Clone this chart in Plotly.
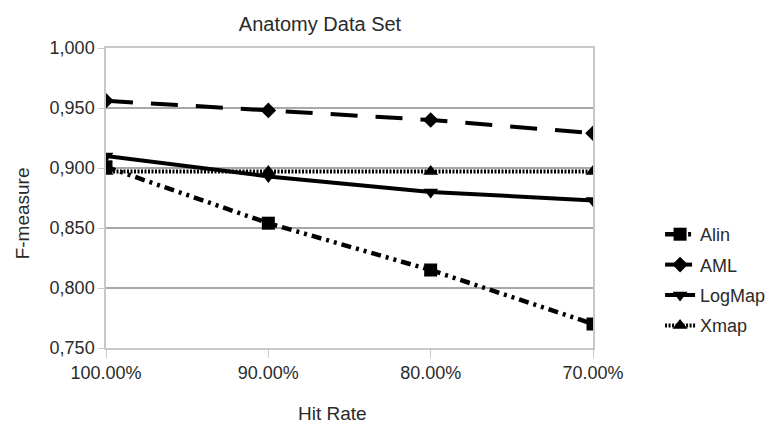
import plotly.graph_objects as go

categories = ["100.00%", "90.00%", "80.00%", "70.00%"]
alin = [0.901, 0.854, 0.815, 0.770]
aml = [0.956, 0.948, 0.940, 0.929]
logmap = [0.910, 0.893, 0.880, 0.873]
xmap = [0.897, 0.897, 0.897, 0.897]

xi = list(range(len(categories)))

W, H = 775, 416
L, R, T, B = 98, 182, 40, 76

fig = go.Figure()
series = [
    ("Alin", alin, "10px,5px,3px,5px,3px,5px", "square", 13, 4.5),
    ("AML", aml, "27px,18px", "diamond", 12, 4),
    ("LogMap", logmap, "solid", "triangle-down", 13, 4),
    ("Xmap", xmap, "2px,1.5px", "triangle-up", 13, 4),
]
for name, vals, dash, sym, sz, lw in series:
    fig.add_trace(go.Scatter(
        x=xi, y=vals, name=name, mode="lines+markers", legendgroup=name,
        line=dict(color="black", width=lw, dash=dash),
        marker=dict(symbol=sym, size=sz, color="black"),
    ))

pw = W - L - R
ph = H - T - B

fig.update_layout(
    width=W, height=H,
    margin=dict(l=L, r=R, t=T, b=B),
    paper_bgcolor="white", plot_bgcolor="white",
    separators=",.",
    font=dict(family="Liberation Sans, Arial, sans-serif", size=18, color="#2a2a2a"),
    title=dict(text="Anatomy Data Set", x=(320 - 8) / W, xanchor="center",
               y=1 - 16 / H, yanchor="middle",
               font=dict(size=20, color="#2a2a2a")),
    showlegend=True,
    legend=dict(x=(W - 1 - L) / pw, xanchor="right", y=(348 - 280) / ph, yanchor="middle",
                font=dict(size=18, color="#2a2a2a"), tracegroupgap=4,
                bgcolor="rgba(0,0,0,0)"),
    annotations=[
        dict(text="Hit Rate", xref="paper", yref="paper",
             x=(336 - 106) / pw, y=-(413 - 348) / ph, xanchor="center", yanchor="middle",
             showarrow=False, font=dict(size=19, color="#2a2a2a")),
        dict(text="F-measure", xref="paper", yref="paper", textangle=-90,
             x=-(106 - 21) / pw, y=(348 - 213) / ph, xanchor="center", yanchor="middle",
             showarrow=False, font=dict(size=19, color="#2a2a2a")),
    ],
)
fig.update_xaxes(
    tickmode="array", tickvals=xi, ticktext=categories, range=[0, 3],
    showgrid=False,
    showline=True, linecolor="#c8c8c8", linewidth=1.5, zeroline=False,
    ticks="outside", ticklen=8, tickcolor="#c8c8c8",
    mirror=True,
)
fig.update_yaxes(
    range=[0.75, 1.0], dtick=0.05, tickformat=".3f",
    showgrid=True, gridcolor="#a8a8a8", gridwidth=1.5,
    showline=True, linecolor="#c8c8c8", linewidth=1.5, zeroline=False,
    ticks="outside", ticklen=6, tickcolor="#c8c8c8",
    mirror=True,
)
fig.write_html("out.html")
